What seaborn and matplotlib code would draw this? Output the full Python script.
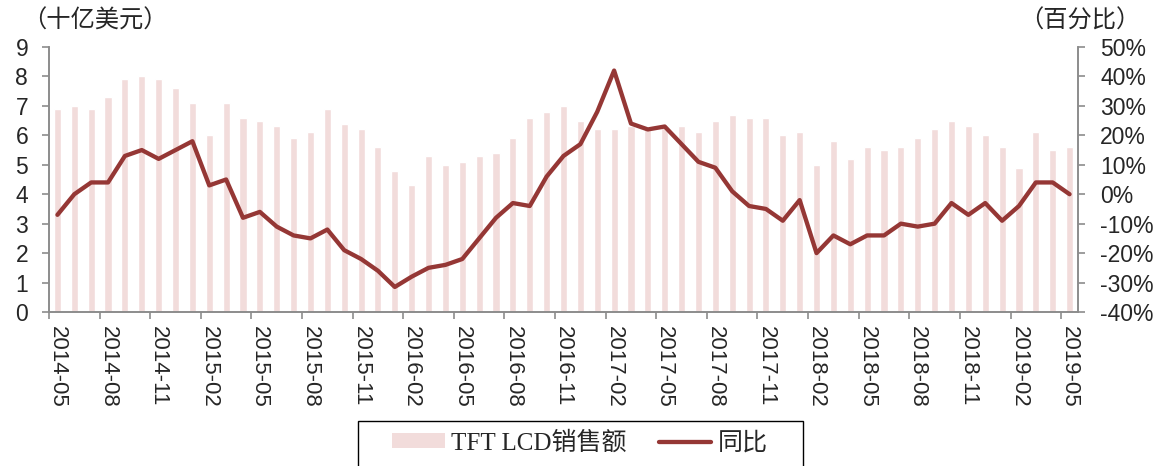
import numpy as np
import pandas as pd
import matplotlib
matplotlib.use("Agg")
import matplotlib.pyplot as plt
import seaborn as sns
from matplotlib.ticker import FuncFormatter, FixedLocator, MultipleLocator
from matplotlib.patches import Patch, Rectangle
from matplotlib.lines import Line2D

# ── Datos: ventas mensuales de TFT LCD (miles de millones USD) y variación anual (%) ──
meses = pd.period_range("2014-05", "2019-05", freq="M").strftime("%Y-%m").tolist()

ventas = [6.9, 7.0, 6.9, 7.3, 7.9, 8.0, 7.9, 7.6,
          7.1, 6.0, 7.1, 6.6, 6.5, 6.3, 5.9, 6.1, 6.9, 6.4, 6.2, 5.6,
          4.8, 4.3, 5.3, 5.0, 5.1, 5.3, 5.4, 5.9, 6.6, 6.8, 7.0, 6.5,
          6.2, 6.2, 6.3, 6.2, 6.3, 6.3, 6.1, 6.5, 6.7, 6.6, 6.6, 6.0,
          6.1, 5.0, 5.8, 5.2, 5.6, 5.5, 5.6, 5.9, 6.2, 6.5, 6.3, 6.0,
          5.6, 4.9, 6.1, 5.5, 5.6]

yoy = [-7, 0, 4, 4, 13, 15, 12, 15,
       18, 3, 5, -8, -6, -11, -14, -15, -12, -19, -22, -26,
       -31.5, -28, -25, -24, -22, -15, -8, -3, -4, 6, 13, 17,
       28, 42, 24, 22, 23, 17, 11, 9, 1, -4, -5, -9,
       -2, -20, -14, -17, -14, -14, -10, -11, -10, -3, -7, -3,
       -9, -4, 4, 4, 0]

df = pd.DataFrame({"mes": meses, "ventas": ventas, "yoy": yoy})

COLOR_BAR = "#f2dcdb"
COLOR_LINE = "#953735"
GRIS = "#8c8c8c"

sns.set_theme(style="white")
plt.rcParams["font.family"] = ["Liberation Sans", "Noto Sans CJK SC", "DejaVu Sans"]

W, H = 1168, 466
fig = plt.figure(figsize=(W / 100, H / 100), dpi=100)
ax = fig.add_axes([49 / W, 1 - 312 / H, (1078 - 49) / W, (312 - 47) / H])
ax2 = ax.twinx()

# ── Barras: ventas ──
sns.barplot(data=df, x="mes", y="ventas", color=COLOR_BAR, saturation=1,
            width=0.42, ax=ax, zorder=1)

# ── Línea: variación anual ──
sns.lineplot(x=np.arange(len(df)), y=df["yoy"], color=COLOR_LINE, linewidth=3.1,
             ax=ax2, zorder=3)

ax.set_xlim(-0.5, len(df) - 0.5)
ax.set_ylim(0, 9)
ax.yaxis.set_major_locator(MultipleLocator(1))
ax2.set_ylim(-40, 50)
ax2.yaxis.set_major_locator(MultipleLocator(10))
ax2.yaxis.set_major_formatter(FuncFormatter(lambda v, p: f"{v:.0f}%"))

# etiquetas cada 3 meses, marcas en los límites de categoría
pos_lab = list(range(0, len(df), 3))
ax.xaxis.set_major_locator(FixedLocator(pos_lab))
ax.set_xticklabels([meses[i] for i in pos_lab], rotation=270, fontsize=16)
ax.xaxis.set_minor_locator(FixedLocator([i - 0.5 for i in range(0, len(df), 3)]))
ax.tick_params(axis="x", which="major", length=0, pad=10)
ax.tick_params(axis="x", which="minor", length=5, width=1.2, color=GRIS, bottom=True)
ax.set_xlabel("")
ax.set_ylabel("")
ax2.set_ylabel("")

ax.tick_params(axis="y", left=True, length=5, width=1.2, color=GRIS, labelsize=16.5, pad=10)
ax2.tick_params(axis="y", right=True, length=5, width=1.2, color=GRIS, labelsize=16.5, pad=11)

for a in (ax, ax2):
    a.spines["top"].set_visible(False)
    for s in ("left", "right", "bottom"):
        a.spines[s].set_color(GRIS)
        a.spines[s].set_linewidth(1.2)

fig.text(22 / W, 1 - 21 / H, "（十亿美元）", fontsize=17.5, family=["Noto Sans CJK SC"], va="center")
fig.text(1140 / W, 1 - 21 / H, "（百分比）", fontsize=17.5, family=["Noto Sans CJK SC"],
         va="center", ha="right")

# leyenda centrada abajo, con marco dibujado aparte (cortado por el borde inferior)
handles = [Patch(facecolor=COLOR_BAR, edgecolor="none", label="TFT LCD销售额"),
           Line2D([0], [0], color=COLOR_LINE, linewidth=3.1, label="同比")]
leg = fig.legend(handles=handles, loc="center left", bbox_to_anchor=(392 / W, 1 - 443 / H),
                 ncol=2, frameon=False, borderpad=0, borderaxespad=0,
                 prop={"family": ["Liberation Serif", "Noto Sans CJK SC"], "size": 18},
                 handlelength=2.1, handleheight=0.55, columnspacing=1.3,
                 handletextpad=0.25)
fig.patches.append(Rectangle((358 / W, -0.05), (803 - 358) / W, 0.05 + 1 - 421 / H,
                             transform=fig.transFigure, fill=False,
                             edgecolor="black", linewidth=1.0))

fig.savefig("out.png", dpi=100)
